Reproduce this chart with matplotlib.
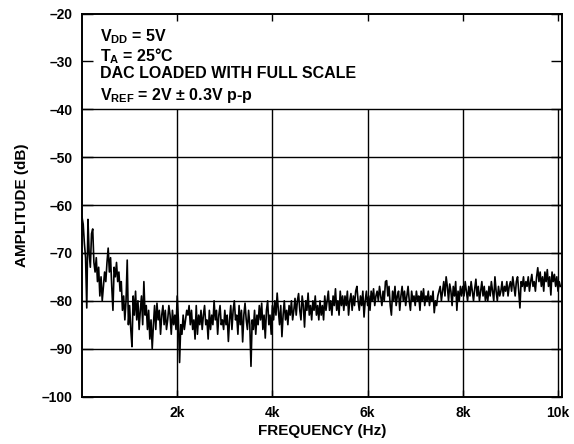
import numpy as np
import matplotlib
matplotlib.use("Agg")
import matplotlib.pyplot as plt

plt.rcParams['font.family'] = ['Liberation Sans', 'DejaVu Sans']
plt.rcParams['font.weight'] = 'bold'
plt.rcParams['mathtext.fontset'] = 'custom'
plt.rcParams['mathtext.rm'] = 'Liberation Sans:bold'
plt.rcParams['mathtext.it'] = 'Liberation Sans:bold'
plt.rcParams['mathtext.bf'] = 'Liberation Sans:bold'

# amplitude, one value every 25 Hz from 0 Hz
amp_db = [
    -62.5, -64, -68, -71, -81.5, -63, -70, -73, -66, -65, -72, -74, -71, -76, -73, -79, -75, -80, -77, -74,
    -76, -72, -69, -74, -71, -77, -82, -73, -75, -72, -76, -74, -78, -76, -82, -79, -84, -80, -71.5, -85,
    -81, -86, -89.6, -79, -83, -78, -84, -80, -86, -82, -79, -85, -76, -83, -81, -86, -82, -88, -84, -90,
    -85, -81, -86, -80.5, -84, -82, -87, -83, -81, -85, -82, -86, -84, -81, -83, -87, -82, -85, -83, -86,
    -79, -84, -92.9, -85, -87, -83, -86, -84, -82, -83, -81, -85, -82, -86, -84, -88, -81, -87, -83, -85,
    -82, -86, -83, -81, -85, -84, -88, -82, -86, -83, -85, -80, -84, -82, -87, -83, -81, -85, -84, -86,
    -82, -85, -83, -88.5, -84, -81, -86, -82, -80, -84, -83, -87, -81, -85, -82, -88.6, -83, -80.5, -84, -86,
    -82, -85, -93.7, -84, -86, -82, -87, -83, -85, -81, -84, -80.5, -86, -83, -87.8, -82, -80, -85, -83, -87,
    -81, -84, -80, -83, -78.4, -82, -85, -81, -87.5, -83, -80, -84, -82, -85, -81, -83, -80, -84, -82, -79.5,
    -83, -80, -78.5, -82, -84, -79, -81, -85.5, -80, -82, -78.4, -83, -81, -84, -80, -82, -79, -83, -81, -84,
    -80, -83, -81, -84, -79, -82, -80, -78, -82, -80, -83, -79, -81, -77.5, -82, -80, -83, -78, -81, -79,
    -82, -79, -81, -78, -83, -80, -78.5, -82, -79, -81, -78, -77, -80, -82, -79, -81, -78, -83.4, -80, -78,
    -81, -79, -82, -78, -80, -77.5, -81, -79, -78, -80, -77, -79, -81, -78, -80, -76, -75.8, -79, -77, -81,
    -83, -78, -80, -77, -81, -79, -78, -82, -79, -77, -80, -78, -81, -79, -77, -80, -82, -78, -80, -79,
    -81, -78, -80, -79, -82, -78, -80, -77.5, -81, -79, -80, -78, -81, -79, -80, -78, -82.5, -80, -81, -79,
    -78, -77, -80, -78, -76, -79, -75, -77, -80, -76.5, -78, -81, -77, -79, -76, -82, -78, -80, -77, -79,
    -77, -79, -76, -78, -80, -77, -79, -76, -78, -80, -77.5, -75.5, -79, -77, -80, -78, -76, -79, -77, -80,
    -78, -80, -77, -79, -76, -78, -80, -75, -78, -80, -77, -79, -78, -76, -79, -77, -78, -76, -79, -77,
    -76, -78, -75, -77, -79, -76, -75, -78, -81.5, -76, -77, -75, -78, -76, -77, -75, -78, -76, -74.5, -77,
    -76, -78, -75, -73.1, -76, -74, -77, -75, -78, -74, -76, -73.5, -77, -75, -78.8, -74, -76, -74.5, -77, -75,
    -78, -76, -77,
]
freq_hz = np.arange(len(amp_db)) * 25

x_ticks = [2000, 4000, 6000, 8000, 10000]
x_labels = ['2k', '4k', '6k', '8k', '10k']
y_ticks = [-100, -90, -80, -70, -60, -50, -40, -30, -20]
y_labels = ['\u2013100', '\u201390', '\u201380', '\u201370', '\u201360', '\u201350', '\u201340', '\u201330', '\u201320']
# full-width grid only below -40 dB; top band is left free for the notes
h_grid = [-90, -80, -70, -60, -50, -40]

notes = [r'$V_{DD}$ = 5V', r'$T_{A}$ = 25°C', 'DAC LOADED WITH FULL SCALE', r'$V_{REF}$ = 2V ± 0.3V p-p']

fig = plt.figure(figsize=(5.74, 4.44), dpi=100)
ax = fig.add_axes([82/574, 1 - 396.5/444, 480/574, 383/444])

xmax = 10084
ax.hlines(h_grid, 0, xmax, color='black', lw=1.0, zorder=1)
ax.vlines(x_ticks, -100, -40, color='black', lw=1.0, zorder=1)
ax.plot(freq_hz, amp_db, color='black', lw=1.2, zorder=2)

ax.set_xlim(0, xmax)
ax.set_ylim(-100, -20)
ax.set_xticks(x_ticks)
ax.set_xticklabels(x_labels)
ax.set_yticks(y_ticks)
ax.set_yticklabels(y_labels)
ax.tick_params(axis='both', direction='in', labelsize=10, width=1.0, color='black')
ax.tick_params(axis='x', length=5, pad=7, top=True)
ax.tick_params(axis='y', length=8, pad=7, right=True)
for s in ax.spines.values():
    s.set_linewidth(1.4)

ax.set_xlabel('FREQUENCY (Hz)', fontsize=11, fontweight='bold', labelpad=3)
ax.set_ylabel('AMPLITUDE (dB)', fontsize=11, fontweight='bold', labelpad=9)

for i, t in enumerate(notes):
    ax.text(0.038, 0.965 - i * 0.051, t, transform=ax.transAxes, fontsize=11.5,
            fontweight='bold', va='top', ha='left')

fig.savefig('out.png', dpi=100)
